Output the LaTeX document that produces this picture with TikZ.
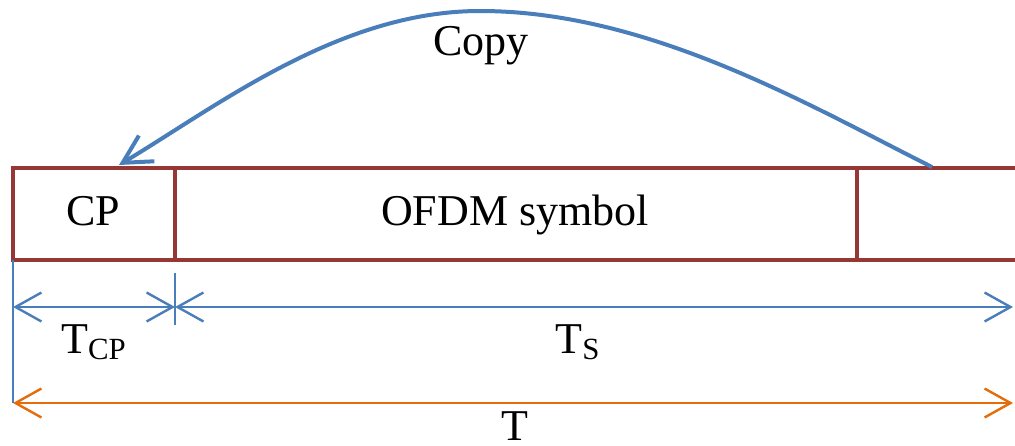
\documentclass[tikz,border=0pt]{standalone}
\usepackage{fontspec}
\setmainfont{Liberation Serif}
\usepackage{xcolor}
\usetikzlibrary{arrows.meta,positioning,calc}

\definecolor{framered}{HTML}{953735}
\definecolor{dimblue}{HTML}{4A7EBB}
\definecolor{dimorange}{HTML}{E46C0A}

\begin{document}
\begin{tikzpicture}[
  x=0.5pt, y=-0.5pt,
  every node/.style={font=\fontsize{22}{26}\selectfont, inner sep=0pt, anchor=base},
  frame/.style={draw=framered, line width=1.8pt},
  barb/.tip={Straight Barb[length=13pt, width=14.5pt]},
  dim/.style={draw=dimblue, line width=1.2pt, barb-barb},
  total/.style={draw=dimorange, line width=1.2pt, barb-barb},
  copyarrow/.style={draw=dimblue, line width=2pt, -{Straight Barb[length=14pt, width=15pt]}}
]
\useasboundingbox (0,0) rectangle (1015,445);

% frame of the symbol
\coordinate (tl) at (13,168);
\coordinate (bl) at (13,260);
\coordinate (tr) at (1015,168);
\coordinate (br) at (1015,260);
\draw[frame] (tr) -- (tl) -- (bl) -- (br);
\draw[frame] (175,168) -- (175,260);
\draw[frame] (857,168) -- (857,260);

\node (cp) at (93,225) {CP};
\node (sym) at (515,225) {OFDM symbol};

% copy of the tail
\coordinate (tail) at (932,167);
\coordinate (top) at (480,11);
\coordinate (head) at (119,165);
\draw[copyarrow] (tail) .. controls (812,107) and (650,11) .. (top)
  .. controls (340,11) and (219,105) .. (head);
\node (copy) at (481,55) {Copy};

% durations
\coordinate (d0) at (13,307);
\coordinate (d1) at (175,307);
\coordinate (d2) at (1013,307);
\coordinate (e0) at (13,403);
\coordinate (e1) at (1013,403);
\draw[draw=dimblue, line width=1.2pt] (bl) -- (e0);
\draw[draw=dimblue, line width=1.2pt] (175,273) -- (175,325);
\draw[dim] (d0) -- (d1);
\draw[dim] (d1) -- (d2);
\draw[total] (e0) -- (e1);

\node (tcp) at (94,353) {T\textsubscript{CP}};
\node (ts) at (578,353) {T\textsubscript{S}};
\node (t) at (515,440) {T};
\end{tikzpicture}
\end{document}
